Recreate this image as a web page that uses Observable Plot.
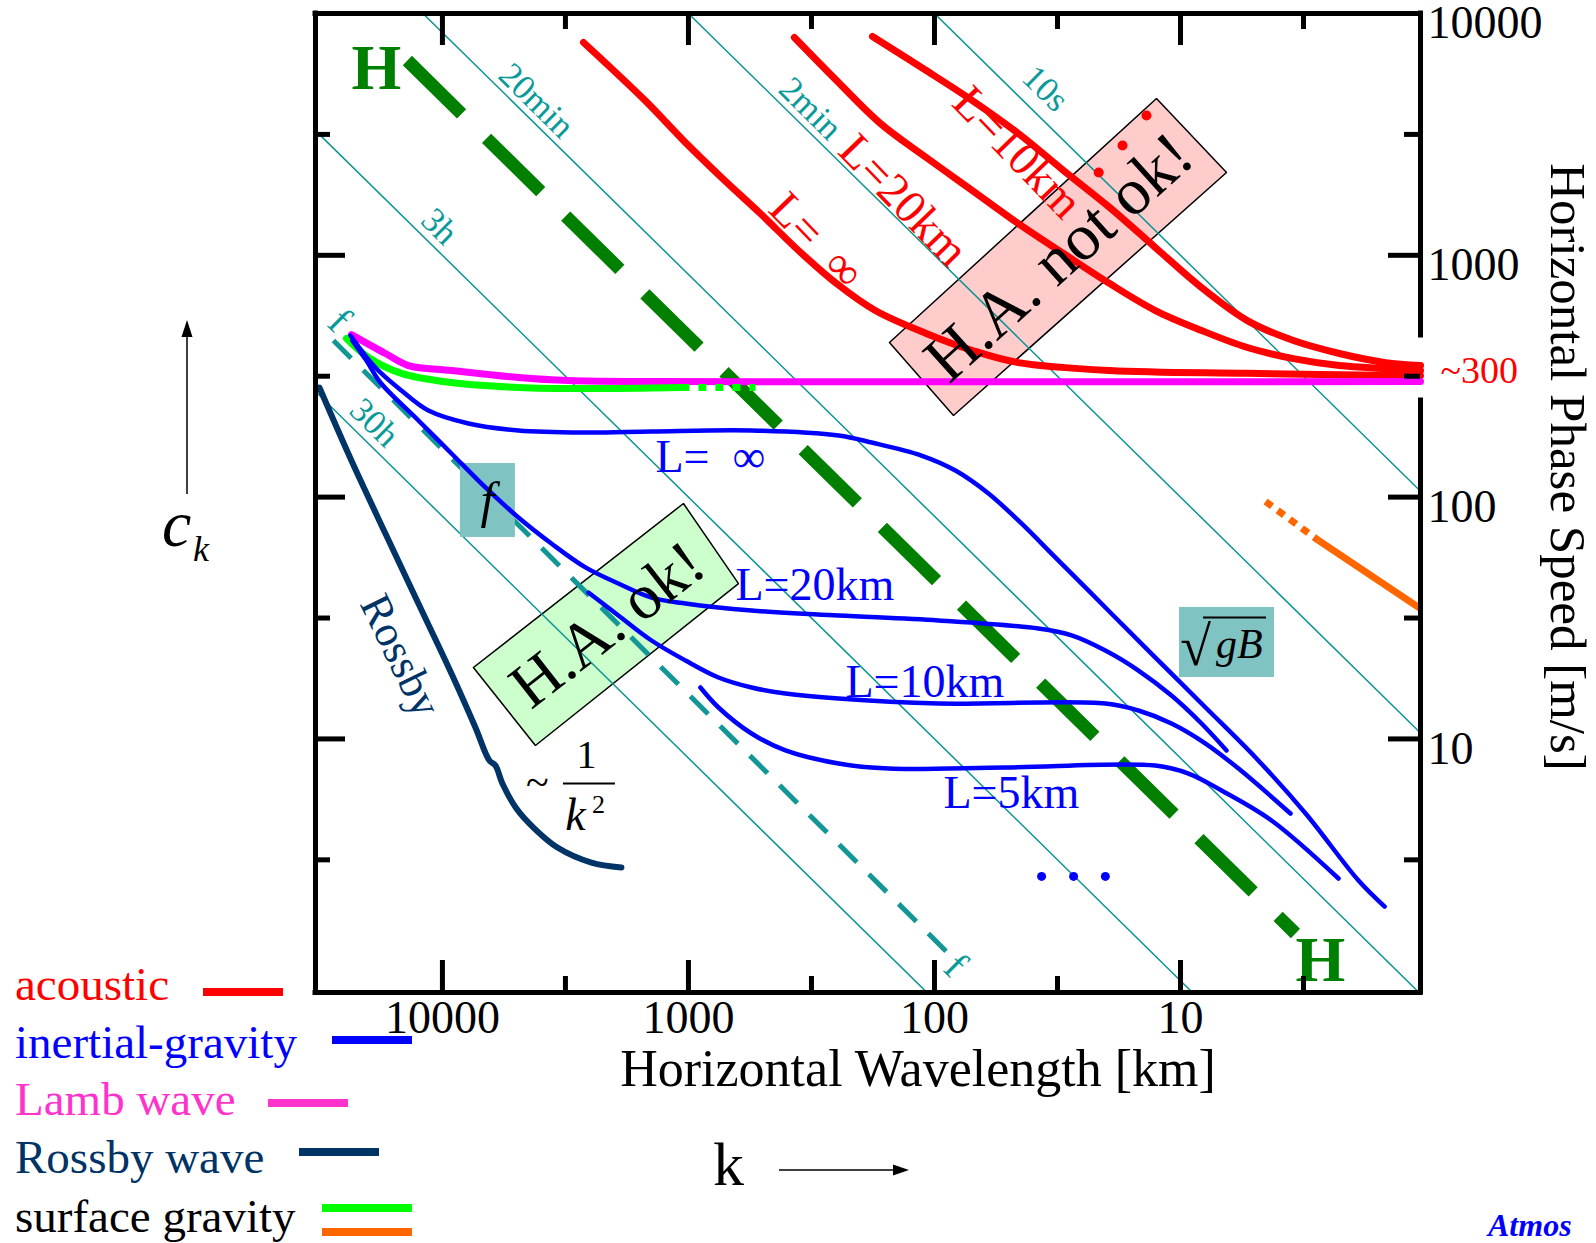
<!DOCTYPE html>
<html><head><meta charset="utf-8">
<script src="https://cdn.jsdelivr.net/npm/d3@7"></script>
<script src="https://cdn.jsdelivr.net/npm/@observablehq/plot@0.6"></script>
<style>
html,body{margin:0;padding:0;background:#fff;overflow:hidden;}
#wrap{position:relative;width:1596px;height:1243px;}
#chart{position:absolute;left:0;top:0;}
#ov{position:absolute;left:0;top:0;pointer-events:none;}
</style></head><body>
<div id="wrap"><div id="chart"></div>
<svg id="ov" width="1596" height="1243" font-family="Liberation Serif, Times New Roman, serif">
  <g font-size="47">
    <text x="15" y="1000" fill="#ff0000">acoustic</text>
    <text x="15" y="1058" fill="#0000ff">inertial-gravity</text>
    <text x="15" y="1115" fill="#ff33cc">Lamb wave</text>
    <text x="15" y="1173" fill="#003366">Rossby wave</text>
    <text x="15" y="1232" fill="#000">surface gravity</text>
  </g>
  <g stroke-width="8">
    <line x1="203" x2="283" y1="992" y2="992" stroke="#ff0000"/>
    <line x1="332" x2="412" y1="1040" y2="1040" stroke="#0000ff"/>
    <line x1="268" x2="348" y1="1103" y2="1103" stroke="#ff33cc"/>
    <line x1="299" x2="379" y1="1152" y2="1152" stroke="#003366"/>
    <line x1="322" x2="412" y1="1208" y2="1208" stroke="#00ff00"/>
    <line x1="322" x2="412" y1="1232" y2="1232" stroke="#ff6600"/>
  </g>
  <line x1="187" x2="187" y1="334" y2="494" stroke="#000" stroke-width="1.5"/>
  <polygon points="187,320 181.5,337 192.5,337" fill="#000"/>
  <text x="162" y="546" font-size="66" font-style="italic">c</text>
  <text x="193" y="561" font-size="36" font-style="italic">k</text>
  <text x="713" y="1185" font-size="62">k</text>
  <line x1="779" x2="895" y1="1170" y2="1170" stroke="#000" stroke-width="1.5"/>
  <polygon points="909,1170 893,1164.5 893,1175.5" fill="#000"/>
  <text x="1488" y="1236" font-size="32" font-weight="bold" font-style="italic" fill="#0000ff">Atmos</text>
</svg>
</div>
<script>
// ---- axes ----
const xDomain = [32800, 1.058];      // horizontal wavelength [km]
const yDomain = [0.894, 10000];      // phase speed [m/s]
const xMajor = [10000, 1000, 100, 10];
const xMinor = [3162, 316.2, 31.62, 3.162];
const yMajor = [10000, 1000, 100, 10];
const yMinor = [3162, 316.2, 31.62, 3.162];

// ---- constant-period lines (seconds) ----
const periodsT = [10, 100, 1200, 10000, 120000];
const periodLabels = ["10s", "2min", "20min", "3h", "30h"];
const periodLabelLam = [35.4, 319, 4148, 10280, 18900];
const periodLabelC = [4895, 4047, 4365, 1316, 203.4];

// ---- acoustic waves ----
const acInfLam = [2670, 1500, 1048, 734, 510, 357, 250, 174, 108, 70.1, 45.6, 19.4, 5.35, 1.058];
const acInfC   = [7590, 4365, 2985, 2099, 1489, 1047, 764, 591, 475, 404, 360, 334, 325, 318];
const ac20Lam  = [371, 250, 165.8, 108, 70.1, 45.6, 29.9, 19.4, 12.65, 8.22, 5.35, 3.475, 2.26, 1.468, 1.058];
const ac20C    = [7960, 5284, 3508, 2538, 1853, 1353, 1017, 764, 591, 489, 415.6, 374, 350, 340, 334];
const ac10Lam  = [178.6, 108, 70.1, 45.6, 29.9, 19.4, 12.65, 8.22, 5.35, 3.475, 2.26, 1.468, 1.058];
const ac10C    = [8035, 5808, 4365, 3190, 2243, 1576, 1077, 736, 537, 444, 392.6, 360, 350];
const acDotLam = [21.5, 17.2, 13.75];
const acDotC   = [2200, 2846, 3785];

// ---- Lamb wave ----
const lambLam = [23440, 17050, 13740, 9190, 4910, 3076, 1413, 1.058];
const lambC   = [470, 392.6, 350, 334, 312.4, 303.4, 300.6, 300.6];

// ---- surface gravity ----
const surfLam = [24550, 19990, 14680, 9190, 4910, 2622, 1068];
const surfC   = [452.6, 378, 325, 297.8, 284, 281, 284];
const surfDotLam = [1068, 534];
const surfDotC   = [284, 284];
const surfShortLam = [2.75, 1.058];
const surfShortC   = [66.2, 34.6];
const surfShortDotLam = [4.51, 2.75];
const surfShortDotC   = [95.9, 66.2];

// ---- inertial-gravity waves ----
const igInfLam = [23650, 18730, 14680, 11400, 7840, 4910, 2622, 1413, 554, 245.5, 180.2, 113, 82.2, 60.3, 44.3, 32.2, 20.2, 12.65, 7.91, 4.955, 3.10, 1.89, 1.48];
const igInfC   = [465.9, 343.6, 276, 228, 201.6, 188.6, 185, 186.8, 188.6, 179.8, 168.2, 148.6, 128.8, 103.5, 77.8, 56.2, 34.96, 21.7, 13.49, 8.38, 4.915, 2.597, 2.027];
const ig20Lam  = [23220, 20370, 17870, 12520, 9190, 6688, 4910, 3606, 2622, 1926, 1413, 1028, 554, 245.5, 96.3, 37.8, 27.7, 20.2, 14.82, 10.88, 8.29, 6.50];
const ig20C    = [444, 367, 297.8, 207.4, 151.5, 109.6, 82.4, 64.3, 51.2, 43.9, 38.4, 36.3, 33.96, 32.4, 30.9, 28.6, 26.8, 23.2, 19.18, 15.12, 11.69, 8.96];
const ig10Lam  = [2550, 1926, 1413, 1028, 755, 554, 403.4, 245.5, 96.3, 20.2, 14.82, 10.88, 7.91, 5.81, 3.572];
const ig10C    = [40.3, 32.4, 25.53, 21.1, 17.95, 16.32, 15.41, 14.69, 14.01, 14.01, 13.11, 11.58, 9.57, 7.54, 4.915];
const ig5Lam   = [893.9, 755, 554, 403.4, 245.5, 153.8, 51.4, 12.65, 9.28, 6.81, 4.266, 2.279];
const ig5C     = [16.32, 13.49, 10.53, 8.96, 7.91, 7.54, 7.62, 7.76, 7.19, 6.12, 4.60, 2.647];
const igDotLam = [36.7, 27.2, 20.2];
const igDotC   = [2.70, 2.70, 2.70];

// ---- Rossby wave ----
const rossbyLam = [31620, 23440, 17050, 12520, 9190, 7342, 6442, 6088, 5704, 5003, 4267, 3408, 2480, 1873];
const rossbyC   = [284, 141.7, 70.7, 36.3, 18.64, 11.15, 8.14, 7.76, 6.54, 5.155, 4.30, 3.555, 3.08, 2.94];

// ---- reference lines ----
const hLineLam = [13880, 3.41];
const hLineC   = [6392, 1.568];
const fLineLam = [27730, 84.5];
const fLineC   = [444.3, 1.247];

// ---- annotation boxes (corners) ----
const pinkBoxLam = [152.4, 12.52, 6.50, 83.7, 152.4];
const pinkBoxC   = [435.9, 4452, 2200, 217.5, 435.9];
const greenBoxLam = [7482, 1048, 626, 4188, 7482];
const greenBoxC   = [19.74, 94.1, 43.9, 9.39, 19.74];
const fBoxLam = [8450, 5050];
const fBoxC   = [68.1, 137.7];
const gBBoxLam = [10.09, 4.15];
const gBBoxC   = [17.95, 34.96];

// ---- text labels ----
const redLabels = ["L=\u2002\u221E", "L=20km", "L=10km"];
const redLabelLam = [301.8, 133.7, 46.0];
const redLabelC = [1151, 1685, 2662];
const blueLabels = ["L=\u2002\u221E", "L=20km", "L=10km", "L=5km"];
const blueLabelLam = [1362, 644.2, 230, 91.9];
const blueLabelC = [145.8, 43.1, 17.12, 5.945];
const fLabelLam = [26220, 82.1];
const fLabelC = [537.6, 1.156];
const hLabelLam = [18550, 2.70];
const hLabelC = [5924, 1.212];

const pts = (lam, c) => lam.map((l, i) => ({lam: l, c: c[i]}));
const periodData = periodsT.flatMap(T => [
  {T, lam: 60000, c: 60000 * 1000 / T},
  {T, lam: 0.5, c: 0.5 * 1000 / T}
]);

const W = 1596, H = 1243, mL = 315, mR = 176, mT = 13, mB = 251;
const fw = W - mL - mR, fh = H - mT - mB;
const teal = "#0c9494", tealText = "#0a9a9a";
const font = "Liberation Serif, Times New Roman, serif";
const L = (lam, c, o) => Plot.line(pts(lam, c), {x: "lam", y: "c", ...o});
const T = (txt, lam, c, o) => Plot.text(txt, {x: (d, i) => lam[i], y: (d, i) => c[i], text: d => d, ...o});

const chart = Plot.plot({
  width: W, height: H,
  marginLeft: mL, marginRight: mR, marginTop: mT, marginBottom: mB,
  x: {type: "log", domain: xDomain, axis: null},
  y: {type: "log", domain: yDomain, axis: null},
  style: {fontFamily: font, background: "white", overflow: "visible"},
  marks: [
    L(pinkBoxLam, pinkBoxC, {fill: "#ffcccc", stroke: "#000", strokeWidth: 1.5, strokeLinejoin: "miter", curve: "linear"}),
    L(greenBoxLam, greenBoxC, {fill: "#ccffcc", stroke: "#000", strokeWidth: 1.5, strokeLinejoin: "miter", curve: "linear"}),
    Plot.line(periodData, {x: "lam", y: "c", z: "T", stroke: teal, strokeWidth: 1.5, clip: true}),
    L(hLineLam, hLineC, {stroke: "#007f00", strokeWidth: 13, strokeDasharray: "76,35", strokeLinecap: "butt"}),
    L(fLineLam, fLineC, {stroke: "#129696", strokeWidth: 5, strokeDasharray: "25,17", strokeLinecap: "butt"}),
    Plot.rect([{x1: fBoxLam[0], x2: fBoxLam[1], y1: fBoxC[0], y2: fBoxC[1]},
               {x1: gBBoxLam[0], x2: gBBoxLam[1], y1: gBBoxC[0], y2: gBBoxC[1]}],
              {x1: "x1", x2: "x2", y1: "y1", y2: "y2", fill: "#80c3c3"}),
    // acoustic
    L(acInfLam, acInfC, {stroke: "#ff0000", strokeWidth: 7, curve: "catmull-rom"}),
    L(ac20Lam, ac20C, {stroke: "#ff0000", strokeWidth: 7, curve: "catmull-rom"}),
    L(ac10Lam, ac10C, {stroke: "#ff0000", strokeWidth: 7, curve: "catmull-rom"}),
    // Lamb and surface gravity
    L(lambLam, lambC, {stroke: "#ff00ff", strokeWidth: 7, curve: "catmull-rom"}),
    L(surfLam, surfC, {stroke: "#00ff00", strokeWidth: 7, curve: "catmull-rom"}),
    L(surfDotLam, surfDotC, {stroke: "#00ff00", strokeWidth: 7, strokeDasharray: "8,9", strokeLinecap: "butt"}),
    // inertial-gravity
    L(igInfLam, igInfC, {stroke: "#0000ff", strokeWidth: 4.5, curve: "catmull-rom"}),
    L(ig20Lam, ig20C, {stroke: "#0000ff", strokeWidth: 4.5, curve: "catmull-rom"}),
    L(ig10Lam, ig10C, {stroke: "#0000ff", strokeWidth: 4.5, curve: "catmull-rom"}),
    L(ig5Lam, ig5C, {stroke: "#0000ff", strokeWidth: 4.5, curve: "catmull-rom"}),
    // Rossby
    L(rossbyLam, rossbyC, {stroke: "#003366", strokeWidth: 6, curve: "catmull-rom"}),
    // short surface gravity (orange)
    L(surfShortLam, surfShortC, {stroke: "#ff6600", strokeWidth: 7, strokeLinecap: "butt"}),
    L(surfShortDotLam, surfShortDotC, {stroke: "#ff6600", strokeWidth: 7, strokeDasharray: "8,7", strokeLinecap: "butt"}),
    // dots
    Plot.dot(pts(acDotLam, acDotC), {x: "lam", y: "c", r: 5, fill: "#ff0000"}),
    Plot.dot(pts(igDotLam, igDotC), {x: "lam", y: "c", r: 4.5, fill: "#0000ff"}),
    // labels
    T(periodLabels, periodLabelLam, periodLabelC, {rotate: 44.5, fill: tealText, fontSize: 35}),
    T(["f", "f"], fLabelLam, fLabelC, {rotate: 44.5, fill: tealText, fontSize: 40}),
    T(["H", "H"], hLabelLam, hLabelC, {fill: "#008000", fontSize: 64, fontWeight: "bold"}),
    T(redLabels, redLabelLam, redLabelC, {rotate: 46, fill: "#ff0000", fontSize: 47}),
    T(blueLabels, blueLabelLam, blueLabelC, {fill: "#0000ff", fontSize: 46, textAnchor: "start"}),
    T(["H.A. not ok!"], [31.2], [981], {rotate: -42, fill: "#000", fontSize: 66}),
    T(["H.A. ok!"], [2135], [29.6], {rotate: -38, fill: "#000", fontSize: 64}),
    T(["Rossby"], [14820], [22.1], {rotate: 64, fill: "#003366", fontSize: 44}),
    T(["f"], [6561], [96.8], {fontSize: 50, fontStyle: "italic", fill: "#000"}),
    T(["\u221A"], [8.69], [24.0], {fontSize: 56, fill: "#000"}),
    T(["gB"], [5.76], [24.6], {fontSize: 42, fontStyle: "italic", fill: "#000"}),
    Plot.ruleY([31.8], {x1: () => 8.06, x2: () => 4.47, stroke: "#000", strokeWidth: 2}),
    T(["~"], [4110], [6.60], {fontSize: 42, fill: "#000"}),
    T(["1"], [2598], [8.54], {fontSize: 40, fill: "#000"}),
    Plot.ruleY([6.54], {x1: () => 3222, x2: () => 1980, stroke: "#000", strokeWidth: 2}),
    T(["k"], [2880], [4.82], {fontSize: 46, fontStyle: "italic", fill: "#000"}),
    T(["2"], [2322], [5.35], {fontSize: 26, fill: "#000"}),
    // frame
    Plot.ruleX([xDomain[0]], {stroke: "#000", strokeWidth: 5, strokeLinecap: "square"}),
    Plot.ruleY([yDomain[0]], {stroke: "#000", strokeWidth: 5, strokeLinecap: "square"}),
    Plot.ruleY([yDomain[1]], {stroke: "#000", strokeWidth: 5, strokeLinecap: "square"}),
    Plot.ruleX([xDomain[1]], {y1: () => 466, y2: () => yDomain[1], stroke: "#000", strokeWidth: 5, strokeLinecap: "square"}),
    Plot.ruleX([xDomain[1]], {y1: () => yDomain[0], y2: () => 250.9, stroke: "#000", strokeWidth: 5, strokeLinecap: "square"}),
    // ticks
    Plot.tickX(xMajor, {x: d => d, insetTop: fh - 32, stroke: "#000", strokeWidth: 5}),
    Plot.tickX(xMinor, {x: d => d, insetTop: fh - 16, stroke: "#000", strokeWidth: 5}),
    Plot.tickX(xMajor, {x: d => d, insetBottom: fh - 32, stroke: "#000", strokeWidth: 5}),
    Plot.tickX(xMinor, {x: d => d, insetBottom: fh - 16, stroke: "#000", strokeWidth: 5}),
    Plot.tickY(yMajor, {y: d => d, insetRight: fw - 30, stroke: "#000", strokeWidth: 5}),
    Plot.tickY(yMinor, {y: d => d, insetRight: fw - 15, stroke: "#000", strokeWidth: 5}),
    Plot.tickY(yMajor, {y: d => d, insetLeft: fw - 32, stroke: "#000", strokeWidth: 5}),
    Plot.tickY(yMinor, {y: d => d, insetLeft: fw - 16, stroke: "#000", strokeWidth: 5}),
    // tick labels
    Plot.text(xMajor, {x: d => d, frameAnchor: "bottom", lineAnchor: "middle", textAnchor: "middle", dy: 26, text: d => String(d), fontSize: 46, fill: "#000"}),
    Plot.text(yMajor, {y: d => d, frameAnchor: "right", lineAnchor: "middle", textAnchor: "start", dx: 7, dy: 10, text: d => String(d), fontSize: 46, fill: "#000"}),
    Plot.text([334], {y: d => d, frameAnchor: "right", lineAnchor: "middle", textAnchor: "start", dx: 20, text: () => "~300", fontSize: 38, fill: "#ff0000"}),
    // axis titles
    Plot.text(["Horizontal Wavelength [km]"], {frameAnchor: "bottom", lineAnchor: "middle", textAnchor: "middle", dx: 50, dy: 77, text: d => d, fontSize: 52, fill: "#000"}),
    Plot.text(["Horizontal Phase Speed [m/s]"], {frameAnchor: "right", lineAnchor: "middle", textAnchor: "middle", dx: 147, dy: -36, rotate: 90, text: d => d, fontSize: 51, fill: "#000"})
  ]
});
document.getElementById("chart").appendChild(chart);
</script>
</body></html>
